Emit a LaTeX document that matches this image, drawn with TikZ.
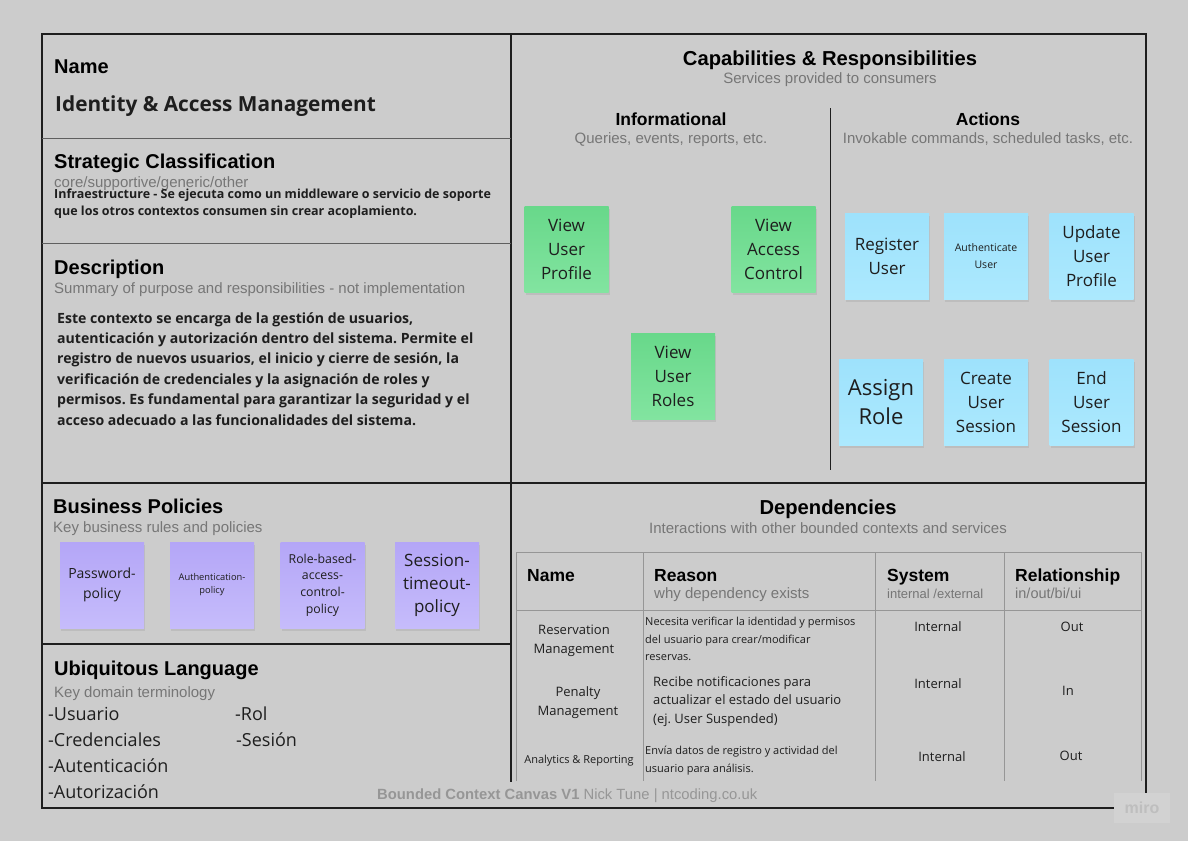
\documentclass[tikz,border=0pt]{standalone}
\usepackage{fontspec}
\setmainfont{Liberation Sans}
\newfontfamily\os{Open Sans}
\frenchspacing
\definecolor{bg}{RGB}{204,204,204}
\definecolor{frame}{RGB}{30,30,30}
\definecolor{thin}{RGB}{95,95,95}
\definecolor{subgray}{RGB}{118,118,118}
\definecolor{foot}{RGB}{150,150,150}
\definecolor{tline}{RGB}{150,150,150}
\definecolor{ink}{RGB}{30,30,30}
\definecolor{gtop}{RGB}{104,216,138}
\definecolor{gbot}{RGB}{130,228,160}
\definecolor{btop}{RGB}{158,226,252}
\definecolor{bbot}{RGB}{172,233,254}
\definecolor{ptop}{RGB}{180,166,247}
\definecolor{pbot}{RGB}{198,188,251}
\definecolor{wmbg}{RGB}{210,210,210}
\definecolor{wmtx}{RGB}{190,190,190}
\tikzset{
  hd/.style={anchor=base west, inner sep=0, font=\fontsize{20}{24}\selectfont\bfseries},
  hdc/.style={anchor=base, inner sep=0, font=\fontsize{20.2}{24}\selectfont\bfseries},
  sub/.style={anchor=base west, inner sep=0, text=subgray, font=\fontsize{15}{18}\selectfont},
  subc/.style={anchor=base, inner sep=0, text=subgray, font=\fontsize{15}{18}\selectfont},
  sticky/.style={minimum width=84pt, minimum height=86pt, inner sep=0, align=center, text=ink,
    preaction={fill=black, opacity=0.07, transform canvas={yshift=-3pt, xshift=1pt}}},
  gsticky/.style={sticky, top color=gtop, bottom color=gbot, font=\os\fontsize{17}{24}\selectfont},
  bsticky/.style={sticky, top color=btop, bottom color=bbot, font=\os\fontsize{17}{24}\selectfont},
  psticky/.style={sticky, top color=ptop, bottom color=pbot},
  body/.style={anchor=base west, inner sep=0, text=ink, align=left},
  th/.style={anchor=base west, inner sep=0, font=\fontsize{17.5}{20}\selectfont\bfseries},
  cell/.style={anchor=center, inner sep=0, align=center, text=ink, font=\os\fontsize{13}{19}\selectfont},
  framel/.style={draw=frame, line width=1.5pt},
  thinl/.style={draw=thin, line width=1pt},
  tabl/.style={draw=tline, line width=0.8pt},
  term/.style={anchor=base west, inner sep=0, text=ink, font=\os\fontsize{18}{22}\selectfont},
}
\begin{document}
\begin{tikzpicture}[x=1pt,y=-1pt]
\useasboundingbox (0,0) rectangle (1188,841);
\fill[bg] (0,0) rectangle (1188,841);

% frame and dividers
\draw[framel] (42,34) rectangle (1146,808);
\draw[framel] (511,34) -- (511,782);
\draw[framel] (42,483) -- (1146,483);
\draw[framel] (42,644) -- (511,644);
\draw[thinl] (42,138) -- (511,138);
\draw[thinl] (42,243) -- (511,243);
\draw[draw=frame, line width=1pt] (830,108) -- (830,470);

% Name
\node[hd] (nameh) at (54,73) {Name};
\node[anchor=base west, inner sep=0, text=ink, font=\os\bfseries\fontsize{20.8}{24}\selectfont] (namev) at (55,111) {Identity \& Access Management};

% Strategic classification
\node[hd] (strh) at (54,168) {Strategic Classification};
\node[sub] (strs) at (54,187) {core/supportive/generic/other};
\node[body, font=\os\bfseries\fontsize{12.5}{16.5}\selectfont] (strv) at (54,215) {Infraestructure - Se ejecuta como un middleware o servicio de soporte\\que los otros contextos consumen sin crear acoplamiento.};

% Description
\node[hd] (desh) at (54,274) {Description};
\node[sub] (dess) at (54,293) {Summary of purpose and responsibilities - not implementation};
\node[body, font=\os\bfseries\fontsize{14.1}{20.4}\selectfont] (desv) at (57,425) {Este contexto se encarga de la gestión de usuarios,\\autenticación y autorización dentro del sistema. Permite el\\registro de nuevos usuarios, el inicio y cierre de sesión, la\\verificación de credenciales y la asignación de roles y\\permisos. Es fundamental para garantizar la seguridad y el\\acceso adecuado a las funcionalidades del sistema.};

% Business policies
\node[hd] (bph) at (53,513) {Business Policies};
\node[sub] (bps) at (53,532) {Key business rules and policies};
\node[psticky, font=\os\fontsize{14}{20}\selectfont] (p1) at (102,585) {Password-\\policy};
\node[psticky, font=\os\fontsize{9.3}{13}\selectfont] (p2) at (212,585) {Authentication-\\policy};
\node[psticky, font=\os\fontsize{12.3}{16.7}\selectfont] (p3) at (322.5,585) {Role-based-\\access-\\control-\\policy};
\node[psticky, font=\os\fontsize{17}{23}\selectfont] (p4) at (437,585) {Session-\\timeout-\\policy};

% Ubiquitous language
\node[hd] (ulh) at (54,675) {Ubiquitous Language};
\node[sub] (uls) at (54,697) {Key domain terminology};
\node[term] (t1) at (48,720) {-Usuario};
\node[term] (t2) at (48,746) {-Credenciales};
\node[term] (t3) at (48,772) {-Autenticación};
\node[term] (t4) at (48,798) {-Autorización};
\node[term] (t5) at (235,720) {-Rol};
\node[term] (t6) at (236,746) {-Sesión};

% footer
\node[anchor=base west, inner sep=0, text=foot, font=\fontsize{14.8}{18}\selectfont] (foot) at (377,799) {\textbf{Bounded Context Canvas V1} Nick Tune | ntcoding.co.uk};

% miro watermark
\fill[wmbg] (1114,793) rectangle (1170,823);
\node[anchor=center, inner sep=0, text=wmtx, font=\fontsize{16}{18}\selectfont\bfseries] (miro) at (1142,808) {miro};

% Capabilities
\node[hdc] (caph) at (830,65) {Capabilities \& Responsibilities};
\node[subc] (caps) at (830,83) {Services provided to consumers};
\node[anchor=base, inner sep=0, font=\fontsize{17.5}{20}\selectfont\bfseries] (infh) at (671,125) {Informational};
\node[subc] (infs) at (671,143) {Queries, events, reports, etc.};
\node[anchor=base, inner sep=0, font=\fontsize{17.5}{20}\selectfont\bfseries] (acth) at (988,125) {Actions};
\node[subc] (acts) at (988,143) {Invokable commands, scheduled tasks, etc.};

\node[gsticky] (g1) at (566.5,249) {View\\User\\Profile};
\node[gsticky] (g2) at (773.5,249) {View\\Access\\Control};
\node[gsticky] (g3) at (673,376) {View\\User\\Roles};

\node[bsticky] (b1) at (887,256) {Register\\User};
\node[bsticky, font=\os\fontsize{10.5}{17}\selectfont] (b2) at (986,256) {Authenticate\\User};
\node[bsticky] (b3) at (1091.5,256) {Update\\User\\Profile};
\node[bsticky, font=\os\fontsize{22}{29}\selectfont] (b4) at (881,402) {Assign\\Role};
\node[bsticky] (b5) at (986,402) {Create\\User\\Session};
\node[bsticky] (b6) at (1091.5,402) {End\\User\\Session};

% Dependencies
\node[hdc] (deph) at (828,514) {Dependencies};
\node[subc] (deps) at (828,533) {Interactions with other bounded contexts and services};

\draw[tabl] (516,781) -- (516,552) -- (1141,552) -- (1141,781);
\draw[tabl] (516,610) -- (1141,610);
\draw[tabl] (643,552) -- (643,781);
\draw[tabl] (875,552) -- (875,781);
\draw[tabl] (1004,552) -- (1004,781);

\node[th] (thn) at (527,581) {Name};
\node[th] (thr) at (654,581) {Reason};
\node[sub] (thrs) at (654,598) {why dependency exists};
\node[th] (ths) at (887,581) {System};
\node[anchor=base west, inner sep=0, text=subgray, font=\fontsize{13}{16}\selectfont] (thss) at (887,598) {internal /external};
\node[th] (thl) at (1015,581) {Relationship};
\node[anchor=base west, inner sep=0, text=subgray, font=\fontsize{14.5}{16}\selectfont] (thls) at (1015,598) {in/out/bi/ui};

\node[cell] (r1n) at (574,641) {Reservation\\Management};
\node[anchor=north west, inner sep=0, align=left, text=ink, font=\os\fontsize{11}{17.5}\selectfont] (r1r) at (645,617) {Necesita verificar la identidad y permisos\\del usuario para crear/modificar\\reservas.};
\node[cell] (r1s) at (938,627) {Internal};
\node[cell] (r1l) at (1072,627) {Out};

\node[cell] (r2n) at (578,703) {Penalty\\Management};
\node[anchor=north west, inner sep=0, align=left, text=ink, font=\os\fontsize{13}{18.5}\selectfont] (r2r) at (653,676) {Recibe notificaciones para\\actualizar el estado del usuario\\(ej. User Suspended)};
\node[cell] (r2s) at (938,684) {Internal};
\node[cell] (r2l) at (1068,691) {In};

\node[cell, font=\os\fontsize{11}{14}\selectfont] (r3n) at (579,761) {Analytics \& Reporting};
\node[anchor=north west, inner sep=0, align=left, text=ink, font=\os\fontsize{11}{17.5}\selectfont] (r3r) at (645,746) {Envía datos de registro y actividad del\\usuario para análisis.};
\node[cell] (r3s) at (942,757) {Internal};
\node[cell] (r3l) at (1071,756) {Out};
\end{tikzpicture}
\end{document}
